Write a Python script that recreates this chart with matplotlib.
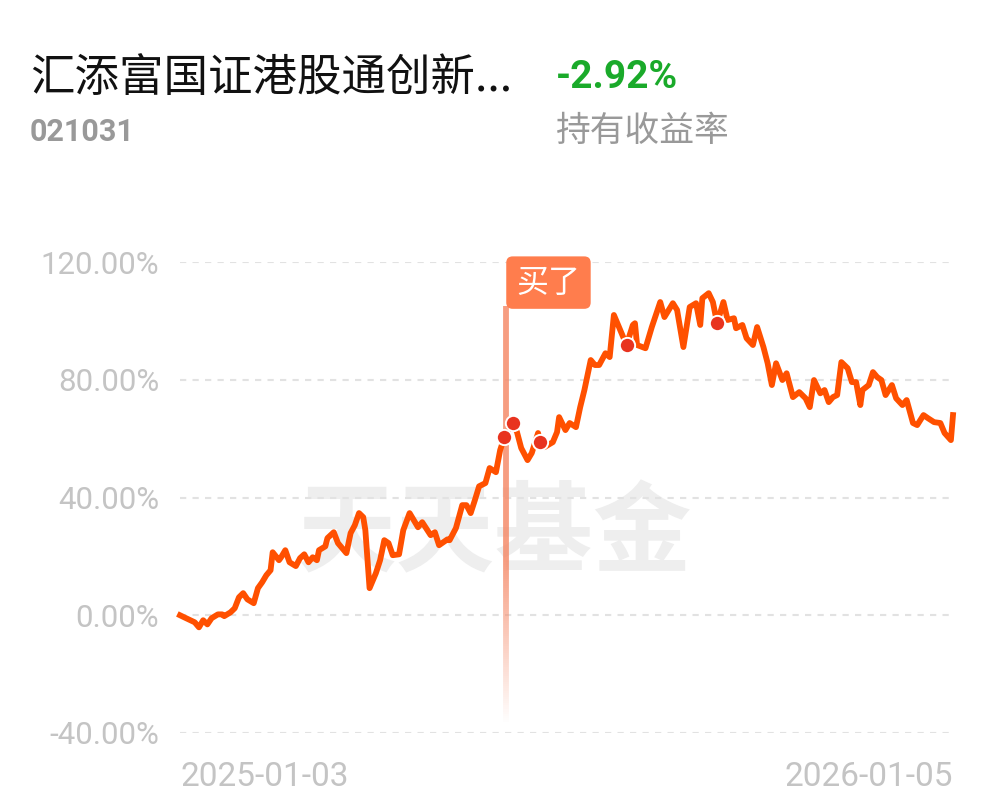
import numpy as np
import pandas as pd
import matplotlib
matplotlib.use('Agg')
import matplotlib.pyplot as plt
import matplotlib.dates as mdates
import matplotlib.transforms as mtrans
from matplotlib.collections import LineCollection

# calendar-day offset from 2025-01-03 and holding return (%)
days = [0, 2, 5, 7, 9, 11, 13, 15, 18, 20, 21, 24, 26, 28, 30, 32, 35, 37, 39, 41,
        43, 44, 47, 48, 50, 52, 55, 57, 59, 61, 63, 65, 66, 69, 70, 73, 75, 77, 79, 81,
        83, 85, 87, 88, 90, 93, 95, 97, 99, 101, 104, 106, 109, 113, 115, 119, 121, 123, 127, 128,
        131, 134, 136, 138, 140, 142, 145, 147, 150, 152, 154, 158, 160, 162, 165, 167, 170, 171, 173, 177,
        179, 180, 183, 185, 188, 190, 192, 195, 197, 199, 202, 204, 206, 209, 212, 215, 216, 217, 221, 224,
        228, 230, 234, 236, 239, 242, 245, 247, 248, 251, 253, 255, 258, 260, 263, 264, 267, 269, 272, 274,
        277, 279, 281, 283, 286, 288, 291, 294, 297, 299, 301, 304, 306, 308, 310, 312, 314, 317, 319, 321,
        323, 324, 327, 329, 331, 333, 335, 338, 340, 343, 345, 348, 350, 353, 355, 358, 361, 363, 366, 367]
returns = [0.0, -0.7, -1.7, -2.4, -4.1, -1.7, -3.1, -1.0, 0.3, 0.3, -0.3, 1.0, 2.4, 6.1, 7.5, 5.4, 4.1, 9.2, 11.2, 13.6,
           15.3, 21.4, 18.7, 19.7, 22.1, 18.0, 16.7, 19.4, 20.7, 18.0, 19.7, 18.7, 22.1, 23.4, 26.2, 28.2, 24.5, 22.8, 21.1, 27.9,
           30.6, 34.7, 33.3, 28.9, 9.2, 14.3, 18.7, 25.5, 24.5, 20.4, 20.7, 28.9, 34.7, 29.9, 31.6, 27.2, 28.2, 23.8, 25.8, 25.5,
           29.6, 37.4, 37.4, 34.7, 39.1, 43.8, 44.9, 50.0, 48.6, 56.1, 60.5, 65.3, 62.2, 56.8, 52.7, 55.1, 61.9, 58.8, 57.1, 58.8,
           62.2, 67.3, 62.9, 65.3, 63.9, 70.7, 76.5, 86.7, 85.0, 85.0, 89.0, 87.7, 102.0, 96.9, 91.8, 98.6, 99.2, 91.8, 90.7, 97.9,
           106.4, 101.3, 106.0, 103.7, 91.1, 104.7, 106.0, 98.6, 107.7, 109.4, 106.4, 99.2, 106.4, 100.3, 100.9, 97.5, 98.6, 94.1, 91.8, 97.9,
           91.1, 85.6, 78.2, 85.6, 79.9, 82.2, 74.1, 75.8, 73.7, 70.7, 79.9, 75.4, 76.5, 72.4, 74.1, 74.8, 86.0, 83.9, 79.2, 79.2,
           71.4, 76.5, 78.2, 82.6, 80.9, 79.9, 74.8, 78.2, 73.7, 71.4, 73.1, 65.3, 64.6, 68.0, 67.0, 65.6, 65.3, 61.9, 59.5, 68.0]

trade_days = [154, 158, 171, 212, 255]   # red dots
buy_day = 155
start = pd.Timestamp('2025-01-03')
dates = start + pd.to_timedelta(days, unit='D')
dot_dates = start + pd.to_timedelta(trade_days, unit='D')
dot_vals = [returns[days.index(d)] for d in trade_days]
buy_date = start + pd.Timedelta(days=buy_day)

fund_name = '汇添富国证港股通创新...'
fund_code = '021031'
hold_return = '-2.92%'
y_ticks = [120, 80, 40, 0, -40]
x_ticks = ['2025-01-03', '2026-01-05']

cjk = ['Noto Sans CJK SC', 'DejaVu Sans']
plt.rcParams['font.family'] = cjk

fig = plt.figure(figsize=(9.97, 8.02), dpi=100)
ax = fig.add_axes([180 / 997, 1 - 733 / 802, 773 / 997, 471 / 802])

ax.set_xlim(start, start + pd.Timedelta(days=367))
ax.set_ylim(-40, 120)
for s in ax.spines.values():
    s.set_visible(False)

ax.set_yticks(y_ticks)
ax.set_yticklabels([f'{v:.2f}%' for v in y_ticks], family='Roboto', fontsize=22.5, color='#c4c4c4')
ax.tick_params(axis='y', length=0, pad=15)
ax.yaxis.grid(True, linestyle=(0, (3, 3)), color='#e2e2e2', lw=1.5)

xt = pd.to_datetime(x_ticks)
ax.set_xticks(xt)
ax.set_xticklabels(x_ticks, family='Roboto', fontsize=24, color='#c4c4c4')
ax.tick_params(axis='x', length=0, pad=20)
labs = ax.get_xticklabels()
labs[0].set_horizontalalignment('left')
labs[1].set_horizontalalignment('right')

# watermark
ax.text(0.407, 0.42, '天天基金', transform=ax.transAxes, fontsize=71, fontweight='bold',
        color='#eeeeee', ha='center', va='center', zorder=0)

# buy marker line with fade
yv = np.linspace(-37, 105, 200)
xn = mdates.date2num(buy_date)
pts = np.column_stack([np.full_like(yv, xn), yv]).reshape(-1, 1, 2)
segs = np.concatenate([pts[:-1], pts[1:]], axis=1)
alpha = np.clip((yv[:-1] + 37) / 55, 0, 1) * 0.85
cols = [(0.96, 0.55, 0.42, a) for a in alpha]
ax.add_collection(LineCollection(segs, colors=cols, linewidths=4.2, zorder=2))

ax.plot(dates, returns, color='#ff5000', lw=4.2, solid_joinstyle='round', zorder=3, clip_on=False)
ax.plot(dot_dates, dot_vals, 'o', ms=11, color='#e8331f', mec='white', mew=1.4, zorder=4, clip_on=False)

tag_trans = ax.transData + mtrans.ScaledTranslation(10 / 100, 0, fig.dpi_scale_trans)
ax.text(buy_date, 113, '买了', fontsize=23, color='white', ha='left', va='center', zorder=5,
        transform=tag_trans,
        bbox=dict(boxstyle='round,pad=0.32,rounding_size=0.2', fc='#ff7d4d', ec='none'))

# header
fig.text(30 / 997, 1 - 78 / 802, fund_name, fontsize=32, color='#111111', va='center', ha='left')
fig.text(30 / 997, 1 - 132 / 802, fund_code, family='Roboto', fontsize=22, fontweight='bold',
         color='#999999', va='center', ha='left')
fig.text(556 / 997, 1 - 78 / 802, hold_return, family='Roboto', fontsize=28, fontweight='bold',
         color='#1aaa2a', va='center', ha='left')
fig.text(556 / 997, 1 - 132 / 802, '持有收益率', fontsize=25, color='#999999', va='center', ha='left')

fig.savefig('out.png', dpi=100, facecolor='white')
